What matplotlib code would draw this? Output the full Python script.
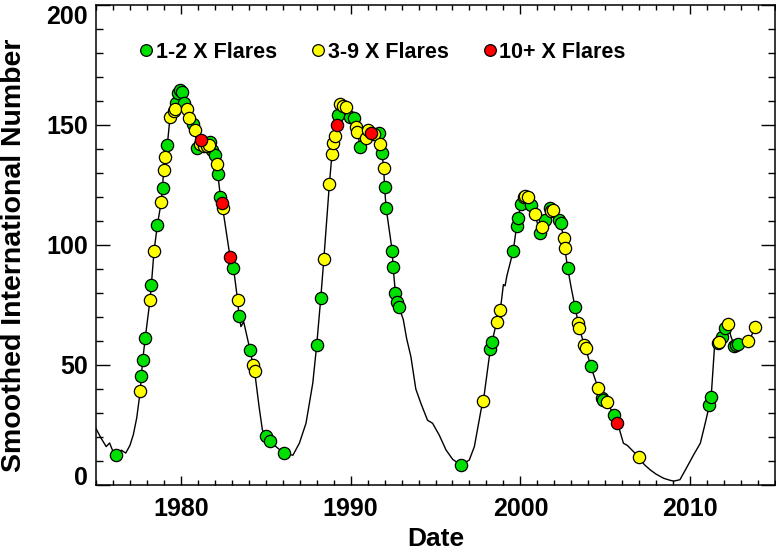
import matplotlib
matplotlib.use("Agg")
import matplotlib.pyplot as plt
from matplotlib.lines import Line2D
from matplotlib.ticker import MultipleLocator

plt.rcParams['font.family'] = ['Liberation Sans', 'DejaVu Sans']
plt.rcParams['font.weight'] = 'bold'

# Smoothed international sunspot number
ssn_dates = [1975.0, 1975.3, 1975.6, 1975.8, 1976.0, 1976.2, 1976.5, 1976.75, 1977.0, 1977.2,
             1977.4, 1977.61, 1977.67, 1977.75, 1977.9, 1978.18, 1978.26, 1978.42, 1978.62, 1978.84,
             1978.92, 1978.98, 1979.08, 1979.2, 1979.36, 1979.6, 1979.7, 1979.86, 1979.96, 1980.04,
             1980.2, 1980.35, 1980.5, 1980.74, 1980.84, 1980.94, 1981.1, 1981.21, 1981.37, 1981.6,
             1981.72, 1981.86, 1982.02, 1982.12, 1982.18, 1982.33, 1982.4, 1982.46, 1982.9, 1983.1,
             1983.34, 1983.42, 1983.54, 1983.7, 1984.07, 1984.25, 1984.34, 1984.6, 1984.8, 1985.0,
             1985.24, 1985.6, 1986.08, 1986.6, 1986.98, 1987.37, 1987.77, 1988.0, 1988.24, 1988.42,
             1988.75, 1988.9, 1988.97, 1989.09, 1989.18, 1989.26, 1989.38, 1989.53, 1989.73, 1989.97,
             1990.22, 1990.32, 1990.38, 1990.57, 1990.91, 1991.0, 1991.18, 1991.4, 1991.65, 1991.75,
             1991.85, 1991.95, 1992.0, 1992.09, 1992.45, 1992.5, 1992.64, 1992.74, 1992.84, 1993.1,
             1993.3, 1993.55, 1993.84, 1994.14, 1994.53, 1994.83, 1995.22, 1995.62, 1996.01, 1996.5,
             1996.99, 1997.29, 1997.68, 1997.82, 1998.23, 1998.33, 1998.6, 1998.82, 1999.0, 1999.1,
             1999.2, 1999.58, 1999.78, 1999.86, 2000.04, 2000.2, 2000.43, 2000.63, 2000.85, 2001.17,
             2001.26, 2001.44, 2001.72, 2001.85, 2002.0, 2002.28, 2002.37, 2002.56, 2002.62, 2002.78,
             2003.0, 2003.22, 2003.41, 2003.47, 2003.77, 2003.85, 2004.14, 2004.58, 2004.79, 2005.09,
             2005.54, 2005.72, 2006.07, 2006.3, 2006.47, 2006.96, 2007.3, 2007.65, 2008.0, 2008.44,
             2008.8, 2009.03, 2009.4, 2009.8, 2010.2, 2010.6, 2010.84, 2011.14, 2011.24, 2011.45,
             2011.63, 2011.73, 2011.9, 2012.04, 2012.24, 2012.4, 2012.61, 2012.8, 2013.0, 2013.39,
             2013.6, 2013.85]
ssn_values = [23.5, 19.5, 16.0, 17.5, 14.0, 12.3, 14.5, 13.3, 16.5, 21.0,
              28.0, 39.3, 45.5, 52.0, 61.2, 77.0, 83.3, 97.6, 108.5, 117.9,
              123.7, 131.1, 136.8, 141.5, 153.3, 155.8, 158.5, 163.2, 164.6, 163.9,
              159.0, 156.5, 153.0, 150.3, 147.9, 140.6, 142.1, 143.7, 141.4, 141.5,
              142.8, 139.6, 137.5, 133.6, 129.4, 120.1, 117.6, 115.5, 94.9, 90.4,
              77.2, 70.6, 66.0, 68.0, 56.4, 50.0, 47.6, 33.0, 23.0, 20.4,
              18.3, 16.0, 13.2, 12.4, 17.4, 25.7, 42.4, 58.2, 77.8, 94.0,
              125.5, 137.8, 142.4, 145.4, 150.0, 154.2, 158.6, 158.0, 157.6, 153.5,
              152.8, 149.3, 147.2, 141.0, 144.5, 147.9, 146.8, 146.1, 146.5, 142.0,
              138.2, 132.0, 124.0, 115.5, 97.5, 91.0, 79.9, 76.4, 74.3, 69.0,
              61.0, 53.5, 40.0, 34.0, 27.0, 25.7, 20.8, 14.6, 10.7, 8.3,
              10.4, 16.0, 31.2, 35.0, 56.7, 59.5, 68.0, 73.0, 83.5, 83.0,
              87.0, 97.6, 107.9, 111.1, 117.1, 120.1, 119.9, 116.7, 112.9, 104.9,
              107.6, 110.4, 115.3, 114.5, 113.0, 110.4, 109.0, 102.8, 98.6, 90.6,
              82.0, 74.2, 67.6, 65.3, 58.3, 57.0, 49.6, 40.3, 36.1, 34.5,
              29.0, 26.0, 17.4, 16.5, 15.3, 11.8, 8.5, 6.3, 4.5, 2.8,
              2.0, 1.6, 2.2, 7.3, 12.5, 17.4, 24.3, 33.3, 36.8, 59.0,
              59.3, 59.6, 61.8, 65.5, 67.0, 62.0, 57.9, 58.7, 59.0, 59.9,
              62.0, 66.0]

# X-class flare months: 1 = 1-2 flares, 2 = 3-9 flares, 3 = 10+ flares
flare_dates = [1976.2, 1977.61, 1977.67, 1977.75, 1977.9, 1978.18, 1978.26, 1978.42, 1978.62, 1978.84,
               1978.92, 1978.98, 1979.08, 1979.2, 1979.36, 1979.6, 1979.68, 1979.72, 1979.86, 1979.96,
               1980.04, 1980.2, 1980.35, 1980.5, 1980.74, 1980.84, 1980.94, 1981.1, 1981.21, 1981.37,
               1981.55, 1981.67, 1981.7, 1981.86, 1982.02, 1982.12, 1982.18, 1982.33, 1982.46, 1982.4,
               1982.9, 1983.1, 1983.34, 1983.42, 1984.07, 1984.25, 1984.34, 1985.0, 1985.24, 1986.08,
               1988.0, 1988.24, 1988.42, 1988.75, 1988.9, 1988.97, 1989.09, 1989.18, 1989.26, 1989.38,
               1989.53, 1989.73, 1989.97, 1990.22, 1990.32, 1990.38, 1990.57, 1990.91, 1991.0, 1991.65,
               1991.18, 1991.4, 1991.75, 1991.85, 1991.95, 1992.0, 1992.09, 1992.45, 1992.5, 1992.64,
               1992.74, 1992.84,
               1996.5, 1997.82, 1998.23, 1998.33, 1998.6, 1998.82, 1999.58, 1999.78, 1999.86, 2000.04,
               2000.2, 2000.3, 2000.43, 2000.63, 2000.85, 2001.17, 2001.26, 2001.44, 2001.72, 2001.82,
               2001.9, 2002.28, 2002.37, 2002.56, 2002.62, 2002.78, 2003.22, 2003.41, 2003.47, 2003.77,
               2003.85, 2004.14, 2004.58, 2004.79, 2004.85, 2005.09, 2005.54, 2005.72, 2006.96,
               2011.14, 2011.24, 2011.63, 2011.73, 2011.9, 2012.04, 2012.24, 2012.61, 2012.7, 2012.8,
               2013.39, 2013.85]
flare_values = [12.3, 39.3, 45.5, 52.0, 61.2, 77.0, 83.3, 97.6, 108.5, 117.9,
                123.7, 131.1, 136.8, 141.5, 153.3, 155.8, 156.8, 159.0, 163.2, 164.6,
                163.9, 159.0, 156.5, 153.0, 150.3, 147.9, 140.6, 142.1, 143.7, 141.4,
                141.2, 141.7, 143.0, 139.6, 137.5, 133.6, 129.4, 120.1, 115.5, 117.6,
                94.9, 90.4, 77.2, 70.6, 56.4, 50.0, 47.6, 20.4, 18.3, 13.2,
                58.2, 77.8, 94.0, 125.5, 137.8, 142.4, 145.4, 150.0, 154.2, 158.6,
                158.0, 157.6, 153.5, 152.8, 149.3, 147.2, 141.0, 144.5, 147.9, 146.5,
                146.8, 146.1, 142.0, 138.2, 132.0, 124.0, 115.5, 97.5, 91.0, 79.9,
                76.4, 74.3,
                8.3, 35.0, 56.7, 59.5, 68.0, 73.0, 97.6, 107.9, 111.1, 117.1,
                120.1, 120.3, 119.9, 116.7, 112.9, 104.9, 107.6, 110.4, 115.3, 114.3,
                114.6, 110.4, 109.0, 102.8, 98.6, 90.6, 74.2, 67.6, 65.3, 58.3,
                57.0, 49.6, 40.3, 36.1, 35.5, 34.5, 29.0, 26.0, 11.8,
                33.3, 36.8, 59.3, 59.6, 61.8, 65.5, 67.0, 57.9, 58.3, 58.7,
                59.9, 66.0]
flare_class = [1, 2, 1, 1, 1, 2, 1, 2, 1, 2,
               1, 2, 2, 1, 2, 2, 2, 1, 1, 1,
               1, 1, 2, 2, 1, 2, 1, 2, 3, 2,
               2, 2, 1, 1, 1, 2, 1, 1, 2, 3,
               3, 1, 2, 1, 1, 2, 2, 1, 1, 1,
               1, 1, 2, 2, 2, 2, 2, 3, 1, 2,
               2, 2, 1, 1, 2, 2, 1, 2, 2, 1,
               3, 2, 2, 1, 2, 1, 1, 1, 1, 1,
               1, 1,
               1, 2, 1, 1, 2, 2, 1, 1, 1, 1,
               2, 2, 2, 1, 2, 1, 2, 1, 1, 2,
               2, 1, 1, 2, 2, 1, 1, 2, 2, 2,
               2, 1, 2, 1, 1, 2, 1, 3, 2,
               1, 1, 1, 2, 1, 1, 2, 1, 1, 1,
               2, 2]

class_labels = ['1-2 X Flares', '3-9 X Flares', '10+ X Flares']
class_colors = ['#00e000', '#ffff00', '#ff0000']

x_ticks = [1980, 1990, 2000, 2010]
y_ticks = [0, 50, 100, 150, 200]

fig = plt.figure(figsize=(7.76, 5.5), dpi=100)
ax = fig.add_axes([96 / 776, 65 / 550, 679 / 776, 480 / 550])

ax.plot(ssn_dates, ssn_values, color='black', lw=1.0, zorder=2)

for k in (1, 2, 3):
    xs = [d for d, c in zip(flare_dates, flare_class) if c == k]
    ys = [v for v, c in zip(flare_values, flare_class) if c == k]
    ax.scatter(xs, ys, s=78, c=class_colors[k - 1], edgecolors='black',
               linewidths=0.9, zorder=3 + k)

ax.set_xlim(1975, 2015)
ax.set_ylim(0, 200)
ax.set_xticks(x_ticks)
ax.set_xticklabels([str(t) for t in x_ticks])
ax.set_yticks(y_ticks)
ax.set_yticklabels([str(t) for t in y_ticks])
ax.xaxis.set_minor_locator(MultipleLocator(1))
ax.yaxis.set_minor_locator(MultipleLocator(10))

ax.tick_params(axis='both', which='both', direction='in', top=True, right=True,
               width=1.0, colors='black')
ax.tick_params(axis='x', which='major', length=6.5, pad=9, labelsize=18)
ax.tick_params(axis='x', which='minor', length=3.6)
ax.tick_params(axis='y', which='major', length=10, pad=6, labelsize=18)
ax.tick_params(axis='y', which='minor', length=5)
for lab in ax.get_xticklabels() + ax.get_yticklabels():
    lab.set_fontweight('bold')
ylabs = ax.get_yticklabels()
ylabs[0].set_verticalalignment('baseline')
ylabs[-1].set_verticalalignment('top')

for sp in ax.spines.values():
    sp.set_linewidth(1.1)

ax.set_xlabel('Date', fontsize=19, fontweight='bold', labelpad=4)
ax.set_ylabel('Smoothed International Number', fontsize=20.5, fontweight='bold')
ax.yaxis.set_label_coords(-0.1016, 0.478)

handles = [Line2D([], [], linestyle='none', marker='o', markersize=8.4,
                  markerfacecolor=col, markeredgecolor='black', markeredgewidth=0.9)
           for col in class_colors]
leg = ax.legend(handles, class_labels, loc='center left', bbox_to_anchor=(0.0648, 0.902),
                ncol=3, frameon=False, borderpad=0, borderaxespad=0, handlelength=0.6,
                handletextpad=0.15, columnspacing=1.6,
                prop={'size': 15.5, 'weight': 'bold'})

fig.savefig('out.png', dpi=100)
